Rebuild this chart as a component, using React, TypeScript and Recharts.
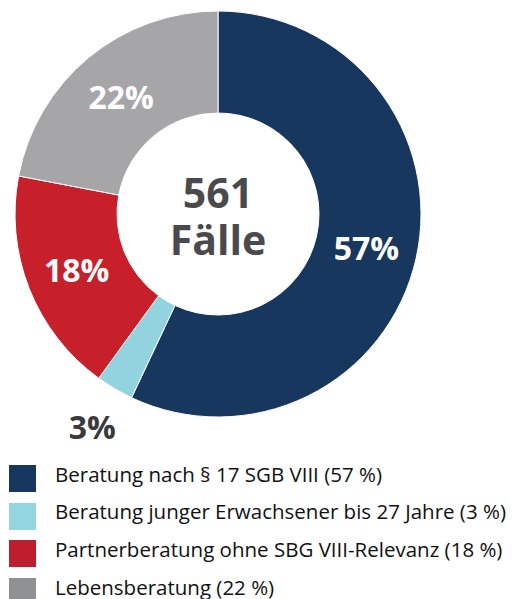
import { Cell, Pie, PieChart } from 'recharts'

const categories = [
    'Beratung nach § 17 SGB VIII (57 %)',
    'Beratung junger Erwachsener bis 27 Jahre (3 %)',
    'Partnerberatung ohne SBG VIII-Relevanz (18 %)',
    'Lebensberatung (22 %)',
]
const shares = [57, 3, 18, 22]
const sliceLabels = ['57%', '3%', '18%', '22%']
const sliceColors = ['#17375e', '#93d3e0', '#c8202a', '#a6a6a9']
const legendColors = ['#17375e', '#93d6e0', '#be1e2d', '#8f9194']
const totalCases = '561'
const totalLabel = 'Fälle'

const data = categories.map((name, i) => ({ name, value: shares[i], label: sliceLabels[i] }))

const FONT = '"Open Sans", "Noto Sans", sans-serif'
const RADIAN = Math.PI / 180

const renderLabel = (props: any) => {
    const { cx, cy, midAngle, innerRadius, outerRadius, percent, index } = props
    const outside = percent < 0.05
    const radius = outside ? outerRadius + 44 : innerRadius + (outerRadius - innerRadius) * 0.5
    const x = cx + radius * Math.cos(-midAngle * RADIAN)
    const y = cy + radius * Math.sin(-midAngle * RADIAN)
    return (
        <text
            x={x}
            y={y}
            fill={outside ? '#3a3a3c' : '#ffffff'}
            textAnchor="middle"
            dominantBaseline="central"
            fontFamily={FONT}
            fontWeight={700}
            fontSize={32}
        >
            {data[index].label}
        </text>
    )
}

const App = () => {
    return (
        <div style={{ position: 'absolute', left: 0, top: 0, width: 518, height: 599, background: '#fff', fontFamily: FONT }}>
            <PieChart width={518} height={470} margin={{ top: 0, right: 0, bottom: 0, left: 0 }}>
                <Pie
                    data={data}
                    dataKey="value"
                    nameKey="name"
                    cx={218}
                    cy={214}
                    innerRadius={101}
                    outerRadius={203}
                    startAngle={90}
                    endAngle={-270}
                    stroke="#ffffff"
                    strokeWidth={1}
                    labelLine={false}
                    label={renderLabel}
                    isAnimationActive={false}
                >
                    {data.map((item, index) => (
                        <Cell key={`cell-${index}`} fill={sliceColors[index]} />
                    ))}
                </Pie>
                <text textAnchor="middle" fontFamily={FONT} fontWeight={700} fontSize={41} fill="#4a4a4c">
                    <tspan x={218} y={208}>{totalCases}</tspan>
                    <tspan x={218} y={255}>{totalLabel}</tspan>
                </text>
            </PieChart>
            <div style={{ position: 'absolute', left: 9, top: 465 }}>
                {categories.map((name, i) => (
                    <div key={name} style={{ display: 'flex', alignItems: 'center', height: 27, marginBottom: 10.7 }}>
                        <div style={{ width: 27, height: 27, flexShrink: 0, background: legendColors[i] }} />
                        <span style={{ marginLeft: 19, fontSize: 20.5, lineHeight: '22px', position: 'relative', top: -5, color: '#111', whiteSpace: 'nowrap' }}>{name}</span>
                    </div>
                ))}
            </div>
        </div>
    )
}

export default App
